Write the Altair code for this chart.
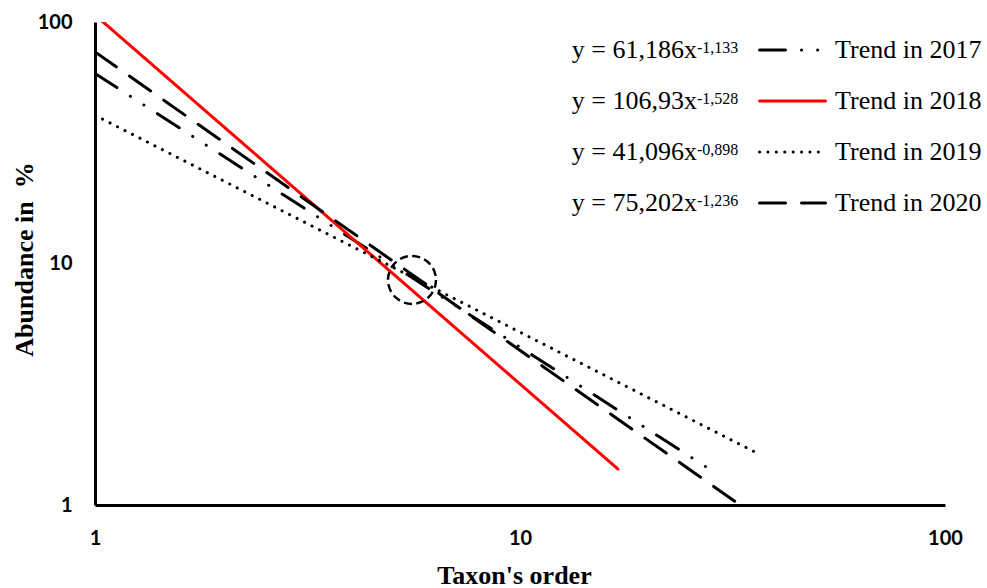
import altair as alt
import pandas as pd

# Power-law trends of taxon abundance vs. rank, one per survey year
years = ["2017", "2018", "2019", "2020"]
coefficients = [61.186, 106.93, 41.096, 75.202]
exponents = [-1.133, -1.528, -0.898, -1.236]
last_rank = [28, 17, 36, 32]          # number of ranked taxa per year
coef_text = ["61,186", "106,93", "41,096", "75,202"]
expo_text = ["-1,133", "-1,528", "-0,898", "-1,236"]
trend_labels = ["Trend in 2017", "Trend in 2018", "Trend in 2019", "Trend in 2020"]

line_colors = ["#000000", "#FF0000", "#000000", "#000000"]
line_dashes = [[26, 16, 0.1, 16, 0.1, 16], [1, 0], [0.1, 8.3], [26, 16]]
line_widths = [3, 3, 3.6, 3]

# convergence point highlighted by a dashed circle
focus_rank = [5.57]
focus_abund = [8.55]

# each trend is straight in log-log space: endpoints from its equation
rows = []
for yr, a, b, n in zip(years, coefficients, exponents, last_rank):
    for r in (1, n):
        rows.append({"year": yr, "rank": r, "abund": a * r ** b})
trend_df = pd.DataFrame(rows)

legend_df = pd.DataFrame({
    "year": years,
    "eq": [f"y = {c}x" for c in coef_text],
    "sup": expo_text,
    "label": trend_labels,
})

color_enc = alt.Color("year:N", scale=alt.Scale(domain=years, range=line_colors), legend=None)
dash_enc = alt.StrokeDash("year:N", scale=alt.Scale(domain=years, range=line_dashes), legend=None)
width_enc = alt.StrokeWidth("year:N", scale=alt.Scale(domain=years, range=line_widths), legend=None)

x_enc = alt.X(
    "rank:Q",
    scale=alt.Scale(type="log", domain=[1, 100], nice=False),
    axis=alt.Axis(
        values=[1, 10, 100], format="d", title="Taxon's order",
        labelPadding=23, labelFlush=False,
        titleX=419, titleY=78, titleBaseline="alphabetic", titleAlign="center",
    ),
)
y_enc = alt.Y(
    "abund:Q",
    scale=alt.Scale(type="log", domain=[1, 100], nice=False),
    axis=alt.Axis(
        values=[1, 10, 100], format="d", title="Abundance in \u00a0%",
        labelPadding=23, labelFlush=False,
        titleX=-63, titleY=237, titleBaseline="alphabetic", titleAlign="center",
    ),
)

lines = alt.Chart(trend_df).mark_line(clip=True, strokeCap="round").encode(
    x=x_enc, y=y_enc, color=color_enc, strokeDash=dash_enc, strokeWidth=width_enc,
    detail="year:N",
)

focus = alt.Chart(pd.DataFrame({"rank": focus_rank, "abund": focus_abund})).mark_point(
    shape="circle", filled=False, size=2300, strokeWidth=2.5,
    strokeDash=[8, 4.5], color="black", opacity=1,
).encode(x="rank:Q", y="abund:Q")

plot = alt.layer(lines, focus)

row_y = alt.Y("year:O", scale=alt.Scale(type="point", range=[28, 181], padding=0), axis=None)

leg_line = alt.Chart(legend_df).mark_rule(strokeCap="round").encode(
    x=alt.value(664.5), x2=alt.value(730.5), y=row_y,
    color=color_enc, strokeDash=dash_enc, strokeWidth=width_enc,
)
leg_eq = alt.Chart(legend_df).mark_text(
    align="right", baseline="middle", font="Liberation Serif", fontSize=26, color="black"
).encode(x=alt.value(602), y=row_y, text="eq:N")
leg_sup = alt.Chart(legend_df).mark_text(
    align="left", baseline="middle", font="Liberation Serif", fontSize=16, dy=-2, color="black"
).encode(x=alt.value(602), y=row_y, text="sup:N")
leg_label = alt.Chart(legend_df).mark_text(
    align="left", baseline="middle", font="Liberation Serif", fontSize=26, color="black"
).encode(x=alt.value(740), y=row_y, text="label:N")

key = alt.layer(leg_line, leg_eq, leg_sup, leg_label)

chart = (
    alt.layer(plot, key)
    .resolve_scale(y="independent")
    .properties(
        width=850, height=483,
        autosize=alt.AutoSizeParams(type="none"),
        padding={"left": 95, "top": 22, "right": 42, "bottom": 83},
        background="white",
    )
    .configure_view(stroke=None)
    .configure_axis(
        domainColor="black", domainWidth=3, ticks=False, grid=False,
        labelFont="Lato", labelFontWeight="bold", labelFontSize=20, labelColor="black",
        titleFont="Liberation Serif", titleFontWeight="bold", titleFontSize=26, titleColor="black",
    )
)

chart.save("out.html", embed_options={"renderer": "svg", "actions": False})
